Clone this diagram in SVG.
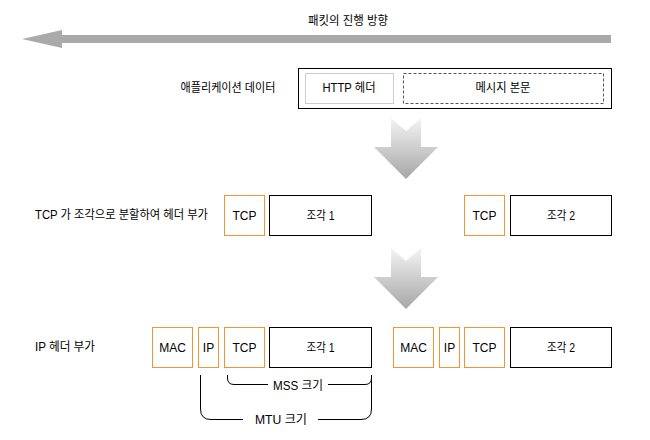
<svg xmlns="http://www.w3.org/2000/svg" width="650" height="440" viewBox="0 0 650 440">
<style>
text{font-family:"Liberation Sans","Noto Sans CJK KR",sans-serif;font-size:12px;fill:#000}
.c{text-anchor:middle}
.blk{fill:#fff;stroke:#000;stroke-width:1}
.org{fill:#fff;stroke:#f19436;stroke-width:1}
.brk{fill:none;stroke:#000;stroke-width:1}
</style>
<defs>
<linearGradient id="g" x1="0" y1="0" x2="0" y2="1">
<stop offset="0" stop-color="#f4f4f4"/>
<stop offset="1" stop-color="#a6a6a6"/>
</linearGradient>
</defs>
<g id="direction">
<polygon points="22,39 62,30 62,35 611,35 611,43 62,43 62,48" fill="#aaaaaa"/>
<text class="c" x="348" y="25" textLength="80" lengthAdjust="spacingAndGlyphs">패킷의 진행 방향</text>
</g>
<g id="appdata">
<text class="c" x="228" y="92" textLength="95" lengthAdjust="spacingAndGlyphs">애플리케이션 데이터</text>
<rect class="blk" x="298.5" y="68.5" width="313" height="40"/>
<g id="http-header">
<rect x="305.5" y="73.5" width="88" height="30" fill="none" stroke="#999" stroke-dasharray="1,1"/>
<text class="c" x="349" y="92" textLength="53" lengthAdjust="spacingAndGlyphs">HTTP 헤더</text>
</g>
<g id="body">
<rect x="403.5" y="73.5" width="200" height="30" fill="none" stroke="#555" stroke-dasharray="3,2"/>
<text class="c" x="503" y="92" textLength="55" lengthAdjust="spacingAndGlyphs">메시지 본문</text>
</g>
</g>
<g id="down1">
<polygon points="391,118 406,131 421,118 421,147 438,147 406,179 374,147 391,147" fill="url(#g)"/>
</g>
<g id="down2">
<polygon points="391,248 406,261 421,248 421,277 438,277 406,309 374,277 391,277" fill="url(#g)"/>
</g>
<g id="row2">
<text x="35" y="219" textLength="173" lengthAdjust="spacingAndGlyphs">TCP 가 조각으로 분할하여 헤더 부가</text>
<g id="r2-tcp1"><rect class="org" x="224.5" y="195.5" width="40" height="40"/><text class="c" x="244.5" y="219.5">TCP</text></g>
<g id="r2-frag1"><rect class="blk" x="269.5" y="195.5" width="102" height="40"/><text class="c" x="320.5" y="219.5" textLength="28" lengthAdjust="spacingAndGlyphs">조각 1</text></g>
<g id="r2-tcp2"><rect class="org" x="464.5" y="195.5" width="40" height="40"/><text class="c" x="484.5" y="219.5">TCP</text></g>
<g id="r2-frag2"><rect class="blk" x="510.5" y="195.5" width="101" height="40"/><text class="c" x="561" y="219.5" textLength="28" lengthAdjust="spacingAndGlyphs">조각 2</text></g>
</g>
<g id="row3">
<text x="35" y="351" textLength="60" lengthAdjust="spacingAndGlyphs">IP 헤더 부가</text>
<g id="r3-mac1"><rect class="org" x="152.5" y="327.5" width="40" height="40"/><text class="c" x="172.5" y="351.5">MAC</text></g>
<g id="r3-ip1"><rect class="org" x="198.5" y="327.5" width="20" height="40"/><text class="c" x="208.5" y="351.5">IP</text></g>
<g id="r3-tcp1"><rect class="org" x="224.5" y="327.5" width="40" height="40"/><text class="c" x="244.5" y="351.5">TCP</text></g>
<g id="r3-frag1"><rect class="blk" x="269.5" y="327.5" width="102" height="40"/><text class="c" x="320.5" y="351.5" textLength="28" lengthAdjust="spacingAndGlyphs">조각 1</text></g>
<g id="r3-mac2"><rect class="org" x="393.5" y="327.5" width="40" height="40"/><text class="c" x="413.5" y="351.5">MAC</text></g>
<g id="r3-ip2"><rect class="org" x="439.5" y="327.5" width="20" height="40"/><text class="c" x="449.5" y="351.5">IP</text></g>
<g id="r3-tcp2"><rect class="org" x="464.5" y="327.5" width="40" height="40"/><text class="c" x="484.5" y="351.5">TCP</text></g>
<g id="r3-frag2"><rect class="blk" x="510.5" y="327.5" width="101" height="40"/><text class="c" x="561" y="351.5" textLength="28" lengthAdjust="spacingAndGlyphs">조각 2</text></g>
</g>
<g id="connectors">
<path class="brk" d="M227.5,375 V378 Q227.5,384.5 234,384.5 H268 M328,384.5 H365 Q371.5,384.5 371.5,378 V375"/>
<path class="brk" d="M200.5,375 V409 Q200.5,419.5 211,419.5 H243 M318,419.5 H361 Q371.5,419.5 371.5,409 V375"/>
</g>
<text class="c" x="298" y="390" textLength="50" lengthAdjust="spacingAndGlyphs">MSS 크기</text>
<text class="c" x="281" y="424" textLength="52" lengthAdjust="spacingAndGlyphs">MTU 크기</text>
</svg>
